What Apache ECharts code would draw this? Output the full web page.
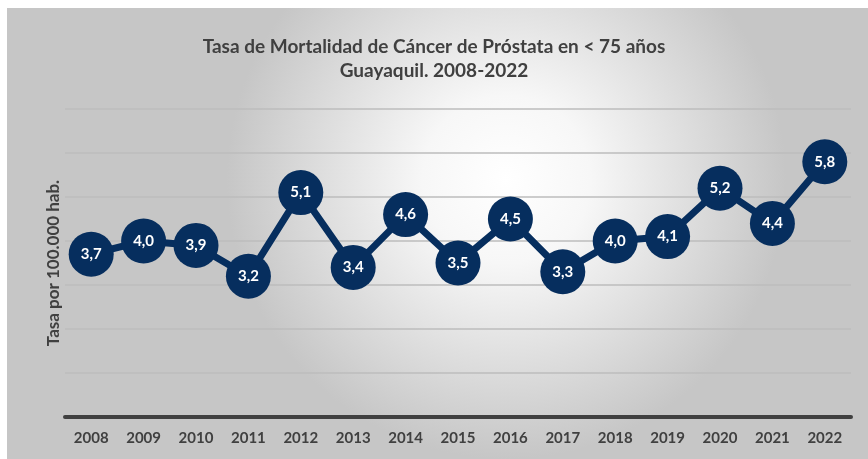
<!DOCTYPE html>
<html>
<head>
<meta charset="utf-8">
<script src="https://cdn.jsdelivr.net/npm/echarts@6/dist/echarts.min.js"></script>
<style>
html,body{margin:0;padding:0;background:#fff;}
#c{width:868px;height:459px;}
</style>
</head>
<body>
<div id="c"></div>
<script>
const years = ['2008','2009','2010','2011','2012','2013','2014','2015','2016','2017','2018','2019','2020','2021','2022'];
const rates = [3.7,4.0,3.9,3.2,5.1,3.4,4.6,3.5,4.5,3.3,4.0,4.1,5.2,4.4,5.8];
const titleText = 'Tasa de Mortalidad de Cáncer de Próstata en < 75 años\nGuayaquil. 2008-2022';
const yName = 'Tasa por 100.000 hab.';

const FONT = 'Lato, "Noto Sans", sans-serif';
const chart = echarts.init(document.getElementById('c'), null, {renderer:'canvas'});
chart.setOption({
  animation:false,
  backgroundColor:'#ffffff',
  graphic:[{
    type:'rect', z:-10, silent:true,
    shape:{x:7,y:8,width:861,height:451},
    style:{fill:new echarts.graphic.RadialGradient(0.58,0.38,0.62,[
      {offset:0,color:'#ffffff'},
      {offset:0.3,color:'#f7f7f7'},
      {offset:1,color:'#c6c6c6'}
    ])}
  }],
  title:{
    text:titleText,
    left:'center', top:30,
    textStyle:{fontFamily:FONT,fontWeight:'bold',fontSize:19,color:'#404040',lineHeight:24}
  },
  grid:{left:65,right:17,top:109,bottom:42},
  xAxis:{
    type:'category', data:years, boundaryGap:true,
    axisLine:{lineStyle:{color:'#404040',width:4}},
    axisTick:{show:false},
    axisLabel:{fontFamily:FONT,fontWeight:'bold',fontSize:15,color:'#404040',margin:14}
  },
  yAxis:{
    type:'value', min:0, max:7, interval:1,
    name:yName, nameLocation:'middle', nameRotate:90, nameGap:3,
    nameTextStyle:{fontFamily:FONT,fontWeight:'bold',fontSize:17,color:'#404040'},
    axisLabel:{show:false}, axisLine:{show:false}, axisTick:{show:false},
    splitLine:{lineStyle:{color:'#bdbdbd',width:1.5}}
  },
  series:[{
    type:'line', data:rates,
    symbol:'circle', symbolSize:45,
    lineStyle:{color:'#062e5e',width:7},
    itemStyle:{color:'#062e5e'},
    label:{show:true,position:'inside',color:'#ffffff',fontFamily:FONT,fontWeight:'bold',fontSize:15,
      formatter:p=>p.value.toFixed(1).replace('.',',')}
  }]
});
</script>
</body>
</html>
